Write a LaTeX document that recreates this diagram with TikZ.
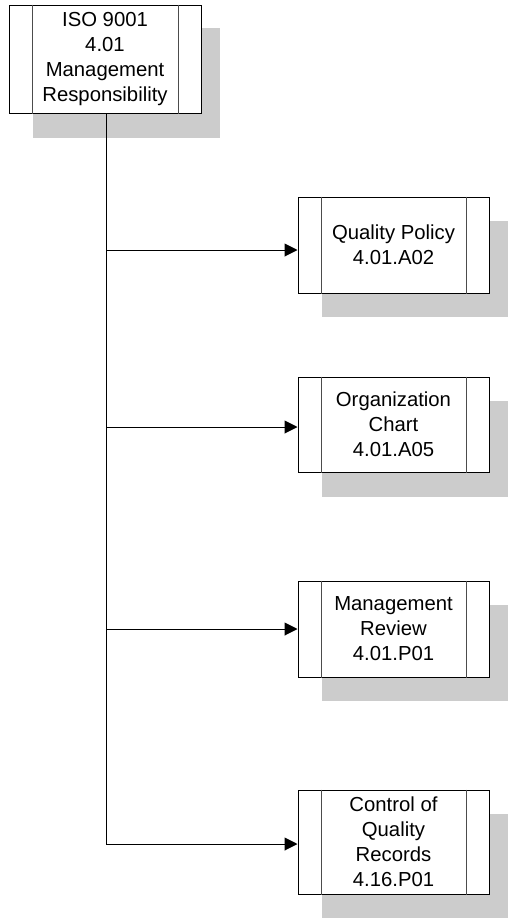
\documentclass[tikz,border=0pt]{standalone}
\usepackage{fontspec}
\setmainfont{Liberation Sans}
\usetikzlibrary{arrows.meta,calc}
\begin{document}
\begin{tikzpicture}[x=1pt,y=-1pt,
  proc/.style={draw=black,fill=white,line width=1pt,rectangle,inner sep=0pt,align=center,
    font=\fontsize{20.3}{25}\selectfont},
  shadowfill/.style={fill=black!20,draw=none},
  conn/.style={line width=1pt,draw=black},
  arr/.style={conn,-{Triangle[length=13pt,width=13pt]}},
  strip/.style={line width=1pt,draw=black!70}]
\useasboundingbox (0,0) rectangle (507,918);
% shadows
\fill[shadowfill] (33,28) rectangle (220,138);
\fill[shadowfill] (322,221) rectangle (513,317);
\fill[shadowfill] (322,401) rectangle (513,497);
\fill[shadowfill] (322,605) rectangle (513,701);
\fill[shadowfill] (322,814) rectangle (513,918);
% boxes
\node[proc,minimum width=192pt,minimum height=108pt] (top) at (105,59) {ISO 9001\\4.01\\Management\\Responsibility};
\node[proc,minimum width=191pt,minimum height=96pt] (q) at (393.5,245) {Quality Policy\\4.01.A02};
\node[proc,minimum width=191pt,minimum height=95pt] (o) at (393.5,424.5) {Organization\\Chart\\4.01.A05};
\node[proc,minimum width=191pt,minimum height=96pt] (m) at (393.5,629) {Management\\Review\\4.01.P01};
\node[proc,minimum width=191pt,minimum height=104pt] (c) at (393.5,842) {Control of\\Quality\\Records\\4.16.P01};
% side strips
\foreach \n in {top,q,o,m,c}{
  \draw[strip] ([xshift=24pt]\n.north west) -- ([xshift=24pt]\n.south west);
  \draw[strip] ([xshift=-23pt]\n.north east) -- ([xshift=-23pt]\n.south east);
}
% connectors
\coordinate (b1) at (106,250);
\coordinate (b2) at (106,427);
\coordinate (b3) at (106,629);
\coordinate (b4) at (106,844);
\draw[conn] (top.south -| b1) -- (b4);
\draw[arr] (b1) -- (b1 -| q.west);
\draw[arr] (b2) -- (b2 -| o.west);
\draw[arr] (b3) -- (b3 -| m.west);
\draw[arr] (b4) -- (b4 -| c.west);
\end{tikzpicture}
\end{document}
